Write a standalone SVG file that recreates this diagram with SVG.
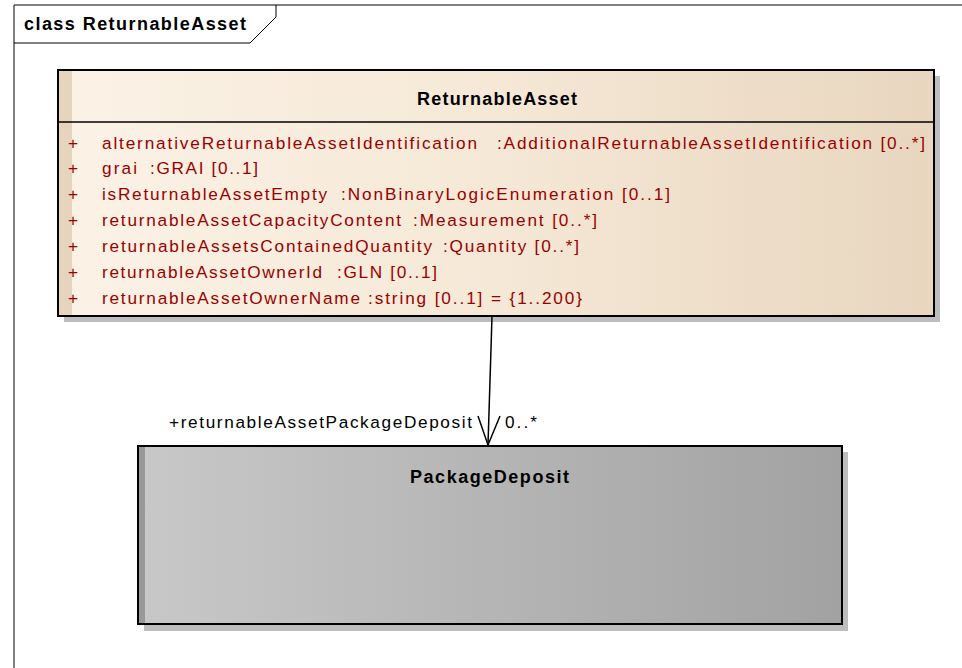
<svg xmlns="http://www.w3.org/2000/svg" width="962" height="668" viewBox="0 0 962 668">
<defs>
<linearGradient id="gA" x1="0" y1="0" x2="1" y2="0">
<stop offset="0" stop-color="#fbf2e6"/>
<stop offset="0.5" stop-color="#f5e8d6"/>
<stop offset="1" stop-color="#e8d6bf"/>
</linearGradient>
<linearGradient id="gP" x1="0" y1="0" x2="1" y2="0">
<stop offset="0" stop-color="#c8c8c8"/>
<stop offset="1" stop-color="#a2a2a2"/>
</linearGradient>
<style>
text{font-family:"Liberation Sans",Arial,sans-serif;}
.title{font-size:18px;font-weight:bold;fill:#000;}
.attr{font-size:17.2px;fill:#900;}
.lbl{font-size:17.2px;fill:#000;}
.box{stroke:#000;stroke-width:2;}
.shadow{fill:#bdbdbd;}
</style>
</defs>
<g id="frame">
<path d="M14,668 V5 H962" fill="none" stroke="#000" stroke-width="1"/>
<path d="M14,43 H250 L276,17 V5" fill="none" stroke="#000" stroke-width="1"/>
<text x="24" y="30" class="title" textLength="222" lengthAdjust="spacing">class ReturnableAsset</text>
</g>
<g id="ReturnableAsset">
<rect x="64" y="76" width="876" height="246" class="shadow"/>
<rect x="58" y="70" width="876" height="246" fill="url(#gA)"/>
<rect x="59" y="71" width="13" height="244" fill="#e6d4bc"/>
<rect x="58" y="70" width="876" height="246" fill="none" class="box"/>
<line x1="58" y1="122" x2="934" y2="122" stroke="#000" stroke-width="1.5"/>
<text x="417" y="105" class="title" textLength="160" lengthAdjust="spacing">ReturnableAsset</text>
<text x="68" y="148.5" class="attr">+</text>
<text x="102" y="148.5" class="attr" textLength="375" lengthAdjust="spacing">alternativeReturnableAssetIdentification</text>
<text x="497" y="148.5" class="attr" textLength="428" lengthAdjust="spacing">:AdditionalReturnableAssetIdentification [0..*]</text>
<text x="68" y="174.3" class="attr">+</text>
<text x="102" y="174.3" class="attr" textLength="35" lengthAdjust="spacing">grai</text>
<text x="150" y="174.3" class="attr" textLength="108" lengthAdjust="spacing">:GRAI [0..1]</text>
<text x="68" y="200.2" class="attr">+</text>
<text x="102" y="200.2" class="attr" textLength="225" lengthAdjust="spacing">isReturnableAssetEmpty</text>
<text x="341" y="200.2" class="attr" textLength="329" lengthAdjust="spacing">:NonBinaryLogicEnumeration [0..1]</text>
<text x="68" y="226" class="attr">+</text>
<text x="102" y="226" class="attr" textLength="299" lengthAdjust="spacing">returnableAssetCapacityContent</text>
<text x="413" y="226" class="attr" textLength="184" lengthAdjust="spacing">:Measurement [0..*]</text>
<text x="68" y="251.8" class="attr">+</text>
<text x="102" y="251.8" class="attr" textLength="330" lengthAdjust="spacing">returnableAssetsContainedQuantity</text>
<text x="443" y="251.8" class="attr" textLength="136" lengthAdjust="spacing">:Quantity [0..*]</text>
<text x="68" y="277.7" class="attr">+</text>
<text x="102" y="277.7" class="attr" textLength="220" lengthAdjust="spacing">returnableAssetOwnerId</text>
<text x="337" y="277.7" class="attr" textLength="100" lengthAdjust="spacing">:GLN [0..1]</text>
<text x="68" y="303.5" class="attr">+</text>
<text x="102" y="303.5" class="attr" textLength="258" lengthAdjust="spacing">returnableAssetOwnerName</text>
<text x="368" y="303.5" class="attr" textLength="214" lengthAdjust="spacing">:string [0..1] = {1..200}</text>
</g>
<g id="PackageDeposit">
<rect x="144" y="452" width="704" height="179" class="shadow"/>
<rect x="138" y="446" width="704" height="178" fill="url(#gP)"/>
<rect x="139" y="447" width="6" height="176" fill="#999"/>
<rect x="138" y="446" width="704" height="178" fill="none" class="box"/>
<text x="410" y="483" class="title" textLength="159" lengthAdjust="spacing">PackageDeposit</text>
</g>
<g id="connectors">
<line x1="492" y1="316" x2="488" y2="445" stroke="#000" stroke-width="1.5"/>
<path d="M478,416 L488,445 L500,416" fill="none" stroke="#000" stroke-width="1.5"/>
<text x="169" y="428" class="lbl" textLength="303" lengthAdjust="spacing">+returnableAssetPackageDeposit</text>
<text x="505" y="428" class="lbl" textLength="32" lengthAdjust="spacing">0..*</text>
</g>
</svg>
